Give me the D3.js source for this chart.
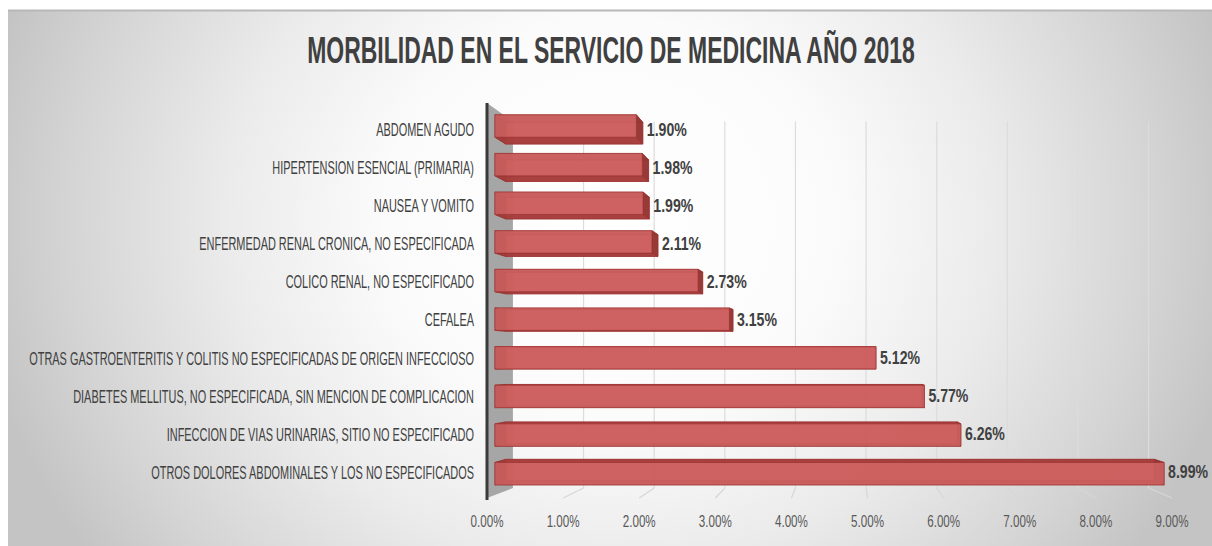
<!DOCTYPE html>
<html>
<head>
<meta charset="utf-8">
<script src="https://cdn.jsdelivr.net/npm/d3@7"></script>
<style>
    html, body { margin: 0; padding: 0; background: #fff; }
    svg { display: block; }
    text { font-family: "Liberation Sans Narrow", "Liberation Sans", "DejaVu Sans Condensed", sans-serif; }
</style>
</head>
<body>
<script>
// chart data
const title = "MORBILIDAD EN EL SERVICIO DE MEDICINA AÑO 2018";
const categories = [
    "ABDOMEN AGUDO",
    "HIPERTENSION ESENCIAL (PRIMARIA)",
    "NAUSEA Y VOMITO",
    "ENFERMEDAD RENAL CRONICA, NO ESPECIFICADA",
    "COLICO RENAL, NO ESPECIFICADO",
    "CEFALEA",
    "OTRAS GASTROENTERITIS Y COLITIS NO ESPECIFICADAS DE ORIGEN INFECCIOSO",
    "DIABETES MELLITUS, NO ESPECIFICADA, SIN MENCION DE COMPLICACION",
    "INFECCION DE VIAS URINARIAS, SITIO NO ESPECIFICADO",
    "OTROS DOLORES ABDOMINALES Y LOS NO ESPECIFICADOS"
];
const values = [0.0190, 0.0198, 0.0199, 0.0211, 0.0273, 0.0315, 0.0512, 0.0577, 0.0626, 0.0899];
const ticks = [0, 0.01, 0.02, 0.03, 0.04, 0.05, 0.06, 0.07, 0.08, 0.09];

const width = 1212;
const height = 546;
const fmt = d3.format(".2%");

// front plane scales, the 3d depth is done with a simple perspective around vp
const x = d3.scaleLinear().domain([0, 0.09]).range([487, 1172]);
const y = d3.scaleBand().domain(categories).range([101, 496]).paddingInner(0.42).paddingOuter(0.21);
const vp = { x: 847, y: 360 };
const sWall = 0.928, sBarFront = 0.978, sBarBack = 0.948, sMid = 0.963;
const wallTop = 103, wallBottom = 498;

function proj(X, Y, s) {
    return [vp.x + (X - vp.x) * s, vp.y + (Y - vp.y) * s];
}

const svg = d3.select("body").append("svg")
    .attr("width", width)
    .attr("height", height);

const grad = svg.append("defs").append("radialGradient")
    .attr("id", "bg")
    .attr("gradientUnits", "userSpaceOnUse")
    .attr("cx", 610).attr("cy", 220).attr("r", 640)
    .attr("gradientTransform", "translate(610,220) scale(1,0.9) translate(-610,-220)");
[[0, "#ffffff"], [0.35, "#fbfbfb"], [0.6, "#ebebeb"], [0.85, "#d4d4d4"], [1, "#c4c4c4"]]
    .forEach(([o, c]) => grad.append("stop").attr("offset", o).attr("stop-color", c));

svg.append("rect")
    .attr("x", 8).attr("y", 10)
    .attr("width", width - 8).attr("height", height - 10)
    .attr("fill", "url(#bg)");
svg.append("line")
    .attr("x1", 8).attr("x2", width).attr("y1", 10.5).attr("y2", 10.5)
    .attr("stroke", "#b8b8b8").attr("stroke-width", 2);

// fit a text node horizontally into a target width (narrow font of the original)
function fitScale(node, target) {
    return target / node.getComputedTextLength();
}

// title
const titleG = svg.append("g");
const titleText = titleG.append("text")
    .attr("text-anchor", "middle")
    .attr("font-size", 36)
    .attr("font-weight", "bold")
    .attr("fill", "#404040")
    .text(title);
titleG.attr("transform", "translate(611,63) scale(" + fitScale(titleText.node(), 608) + ",1)");

// back wall gridlines
const grid = svg.append("g").attr("class", "grid");
grid.selectAll("line.back")
    .data(ticks.slice(1))
    .enter().append("line")
    .attr("class", "back")
    .each(function (t) {
        const a = proj(x(t), wallTop, sWall), b = proj(x(t), wallBottom, sWall);
        d3.select(this).attr("x1", a[0]).attr("y1", a[1]).attr("x2", b[0]).attr("y2", b[1]);
    })
    .attr("stroke", "#dcdcdc").attr("stroke-width", 1.2);

// floor lines
grid.selectAll("line.floor")
    .data(ticks.slice(1))
    .enter().append("line")
    .attr("class", "floor")
    .each(function (t) {
        const a = proj(x(t), wallBottom, sWall), b = proj(x(t), wallBottom, 1);
        d3.select(this).attr("x1", a[0]).attr("y1", a[1]).attr("x2", b[0]).attr("y2", b[1]);
    })
    .attr("stroke", "#d6d6d6").attr("stroke-width", 1.2);

// side wall
const wallPts = [
    proj(x(0), wallTop, 1), proj(x(0), wallTop, sWall),
    proj(x(0), wallBottom, sWall), proj(x(0), wallBottom, 1)
];
svg.append("polygon")
    .attr("points", wallPts.map(p => p.join(",")).join(" "))
    .attr("fill", "#a6a6a6");
svg.append("line")
    .attr("x1", x(0)).attr("x2", x(0))
    .attr("y1", wallTop).attr("y2", wallBottom + 2)
    .attr("stroke", "#3a3a3a").attr("stroke-width", 3);

// bars
function barFaces(d, i) {
    const X0 = x(0), X1 = x(values[i]);
    const Y1 = y(d), Y2 = Y1 + y.bandwidth();
    const F = sBarFront, B = sBarBack;
    return [
        { k: "back", p: [proj(X0, Y1, B), proj(X1, Y1, B), proj(X1, Y2, B), proj(X0, Y2, B)] },
        { k: "end", p: [proj(X0, Y1, F), proj(X0, Y1, B), proj(X0, Y2, B), proj(X0, Y2, F)] },
        { k: "side", p: [proj(X0, Y1, F), proj(X1, Y1, F), proj(X1, Y1, B), proj(X0, Y1, B)] },
        { k: "side", p: [proj(X0, Y2, F), proj(X1, Y2, F), proj(X1, Y2, B), proj(X0, Y2, B)] },
        { k: "end", p: [proj(X1, Y1, F), proj(X1, Y1, B), proj(X1, Y2, B), proj(X1, Y2, F)] },
        { k: "front", p: [proj(X0, Y1, F), proj(X1, Y1, F), proj(X1, Y2, F), proj(X0, Y2, F)] }
    ];
}
const faceFill = { back: "#c0504d", side: "#a23c3a", end: "#8f3431", front: "#cf6161" };
const faceOpacity = { back: 0.9, side: 0.85, end: 0.85, front: 0.82 };

const bar = svg.append("g")
    .attr("class", "bars")
    .selectAll("g")
    .data(categories)
    .enter().append("g");

bar.selectAll("polygon")
    .data((d, i) => barFaces(d, i))
    .enter().append("polygon")
    .attr("points", f => f.p.map(p => p.join(",")).join(" "))
    .attr("fill", f => faceFill[f.k])
    .attr("fill-opacity", f => faceOpacity[f.k])
    .attr("stroke", "#9a3330")
    .attr("stroke-opacity", 0.75)
    .attr("stroke-width", 0.8);

// value labels
const valueLabels = bar.append("g")
    .attr("transform", (d, i) => {
        const Y = y(d) + y.bandwidth() / 2;
        const xr = Math.max(proj(x(values[i]), Y, sBarFront)[0], proj(x(values[i]), Y, sBarBack)[0]);
        return "translate(" + (xr + 4) + "," + proj(x(values[i]), Y, sMid)[1] + ")";
    });
const vText = valueLabels.append("text")
    .attr("dy", "0.36em")
    .attr("font-size", 18)
    .attr("font-weight", "bold")
    .attr("fill", "#404040")
    .text((d, i) => fmt(values[i]));
const vScale = fitScale(vText.nodes()[9], 40);
valueLabels.attr("transform", function () {
    return d3.select(this).attr("transform") + " scale(" + vScale + ",1)";
});

// category labels
const catLabels = svg.append("g")
    .attr("class", "categories")
    .selectAll("g")
    .data(categories)
    .enter().append("g");
const cText = catLabels.append("text")
    .attr("text-anchor", "end")
    .attr("dy", "0.36em")
    .attr("font-size", 18.5)
    .attr("fill", "#404040")
    .text(d => d);
const cScale = fitScale(cText.nodes()[6], 445);
catLabels.attr("transform", d => {
    const yy = proj(x(0), y(d) + y.bandwidth() / 2, sMid)[1];
    return "translate(474," + yy + ") scale(" + cScale + ",1)";
});

// x axis tick labels
const tickLabels = svg.append("g")
    .attr("class", "x axis")
    .selectAll("g")
    .data(ticks)
    .enter().append("g");
const tText = tickLabels.append("text")
    .attr("text-anchor", "middle")
    .attr("font-size", 17)
    .attr("fill", "#595959")
    .text(d => fmt(d));
const tScale = fitScale(tText.nodes()[0], 33);
tickLabels.attr("transform", d => "translate(" + x(d) + ",527) scale(" + tScale + ",1)");
</script>
</body>
</html>
